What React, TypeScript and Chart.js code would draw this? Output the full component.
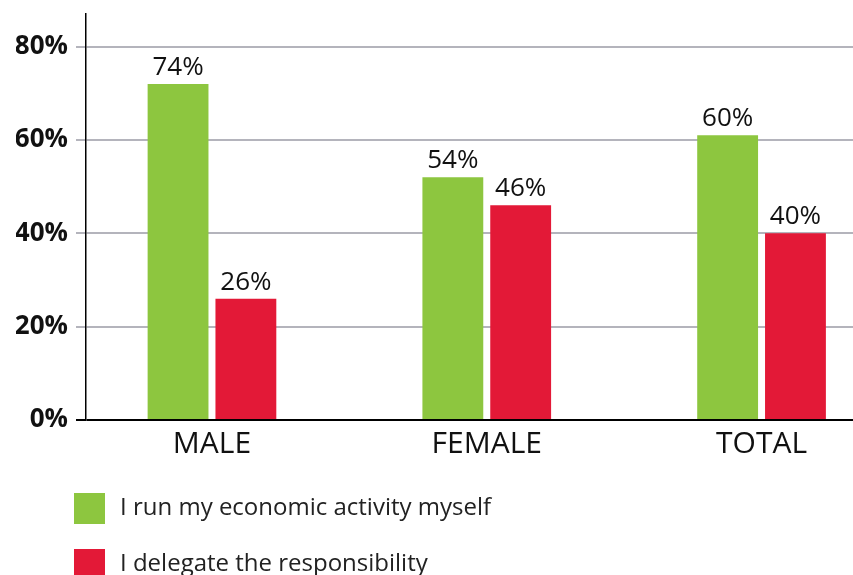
import React, { useEffect, useRef } from 'react';
import { Chart, registerables } from 'chart.js';

Chart.register(...registerables);

const categories = ['MALE', 'FEMALE', 'TOTAL'];
const seriesNames = ['I run my economic activity myself', 'I delegate the responsibility'];
const runMyself = [72, 52, 61];
const delegate = [26, 46, 40];
const runMyselfLabels = ['74%', '54%', '60%'];
const delegateLabels = ['26%', '46%', '40%'];
const yTicks = [0, 20, 40, 60, 80];
const seriesColors = ['#8dc63f', '#e31937'];

const FONT = '"Open Sans", "DejaVu Sans", sans-serif';

const valueLabelPlugin = {
  id: 'valueLabels',
  afterDatasetsDraw(chart: any) {
    const ctx = chart.ctx;
    const labelSets = [runMyselfLabels, delegateLabels];
    ctx.save();
    ctx.font = `400 26px ${FONT}`;
    ctx.fillStyle = '#111111';
    ctx.textAlign = 'center';
    ctx.textBaseline = 'alphabetic';
    chart.data.datasets.forEach((_: any, di: number) => {
      const meta = chart.getDatasetMeta(di);
      meta.data.forEach((bar: any, i: number) => {
        ctx.fillText(labelSets[di][i], bar.x, bar.y - 9);
      });
    });
    ctx.restore();
  },
};

export default function App() {
  const ref = useRef<HTMLCanvasElement | null>(null);

  useEffect(() => {
    if (!ref.current) return;
    const chart = new Chart(ref.current, {
      type: 'bar',
      data: {
        datasets: [
          {
            label: seriesNames[0],
            data: runMyself.map((v, i) => ({ x: i, y: v })),
            backgroundColor: seriesColors[0],
          },
          {
            label: seriesNames[1],
            data: delegate.map((v, i) => ({ x: i, y: v })),
            backgroundColor: seriesColors[1],
          },
        ],
      },
      plugins: [valueLabelPlugin],
      options: {
        responsive: false,
        animation: false,
        categoryPercentage: 0.4937,
        barPercentage: 0.897,
        layout: { padding: { left: 16, top: 14, right: 0, bottom: 106 } },
        plugins: {
          legend: { display: false },
          tooltip: { enabled: false },
        },
        scales: {
          x: {
            type: 'linear',
            min: -0.4584,
            max: 2.3328,
            offset: false,
            grid: { display: false, drawTicks: false },
            border: { display: false },
            afterBuildTicks: (scale: any) => {
              scale.ticks = categories.map((_, i) => ({ value: i }));
            },
            ticks: {
              padding: 6.5,
              color: '#111111',
              font: { family: FONT, size: 30, weight: '400' },
              callback: (v: any) => categories[v as number] ?? '',
            },
          },
          y: {
            min: 0,
            max: 87,
            afterBuildTicks: (scale: any) => {
              scale.ticks = yTicks.map((v) => ({ value: v }));
            },
            afterFit: (scale: any) => {
              scale.width = 70;
              scale.paddingTop = 0;
              scale.paddingBottom = 0;
            },
            grid: {
              color: (c: any) => (c.tick && c.tick.value === 0 ? '#000000' : '#b4b4bc'),
              lineWidth: 2,
              tickLength: 10,
            },
            border: { display: true, color: '#000000', width: 1.5 },
            ticks: {
              padding: 8,
              color: '#111111',
              font: { family: FONT, size: 26, weight: 'bold' },
              callback: (v: any) => `${v}%`,
            },
          },
        },
      },
    } as any);
    return () => chart.destroy();
  }, []);

  const legendRow = (i: number, top: number) => (
    <div
      key={i}
      style={{ position: 'absolute', left: 74, top, display: 'flex', alignItems: 'center', height: 31 }}
    >
      <div style={{ width: 31, height: 31, background: seriesColors[i] }} />
      <span
        style={{
          marginLeft: 15,
          fontFamily: FONT,
          fontSize: 24,
          color: '#222222',
          whiteSpace: 'nowrap',
          position: 'relative',
          top: -3,
        }}
      >
        {seriesNames[i]}
      </span>
    </div>
  );

  return (
    <div style={{ position: 'absolute', left: 0, top: 0, width: 853, height: 575, overflow: 'hidden', background: '#fff' }}>
      <canvas ref={ref} width={853} height={575} style={{ display: 'block', width: 853, height: 575 }} />
      {legendRow(0, 493)}
      {legendRow(1, 549)}
    </div>
  );
}
